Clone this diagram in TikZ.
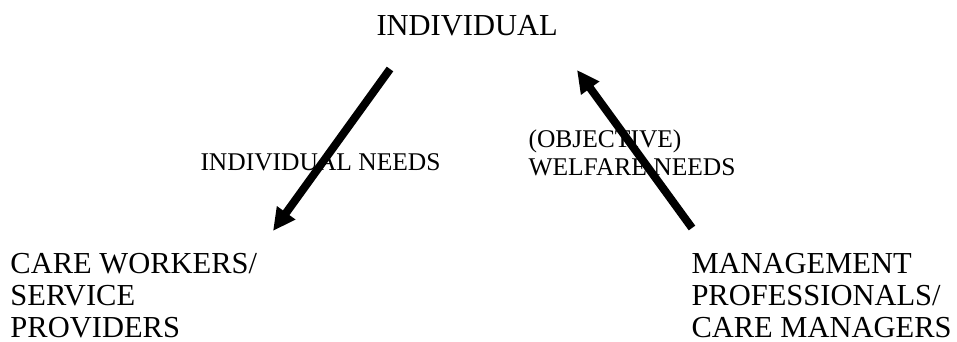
\documentclass[tikz,border=0pt]{standalone}
\usepackage{fontspec}
\setmainfont{Liberation Serif}
\usetikzlibrary{
  arrows.meta,
  positioning
}

\begin{document}
\begin{tikzpicture}[x=0.4pt, y=0.4pt,
  big/.style={inner sep=0pt, align=left, anchor=north west, font=\fontsize{12.2}{12.8}\selectfont},
  small/.style={inner sep=0pt, align=left, anchor=north west, font=\fontsize{10.2}{11.2}\selectfont},
  need/.style={line width=3.2pt, -{Triangle[width=8.5pt, length=9pt]}}]
  \useasboundingbox (0,0) rectangle (957,341);
  % actors
  \node[big] (indiv) at (376,326) {INDIVIDUAL};
  \node[big] (care) at (10,88) {CARE WORKERS/\\SERVICE\\PROVIDERS};
  \node[big] (mgmt) at (691,88) {MANAGEMENT\\PROFESSIONALS/\\CARE MANAGERS};
  % needs
  \node[small] (indneeds) at (200,188) {INDIVIDUAL NEEDS};
  \node[small] (welfare) at (528,212) {(OBJECTIVE)\\WELFARE NEEDS};
  \coordinate (downA) at (390,272);
  \coordinate (downB) at (273,110);
  \coordinate (upA) at (692,113);
  \coordinate (upB) at (577,271);
  \draw[need] (downA) -- (downB);
  \draw[need] (upA) -- (upB);
\end{tikzpicture}
\end{document}
